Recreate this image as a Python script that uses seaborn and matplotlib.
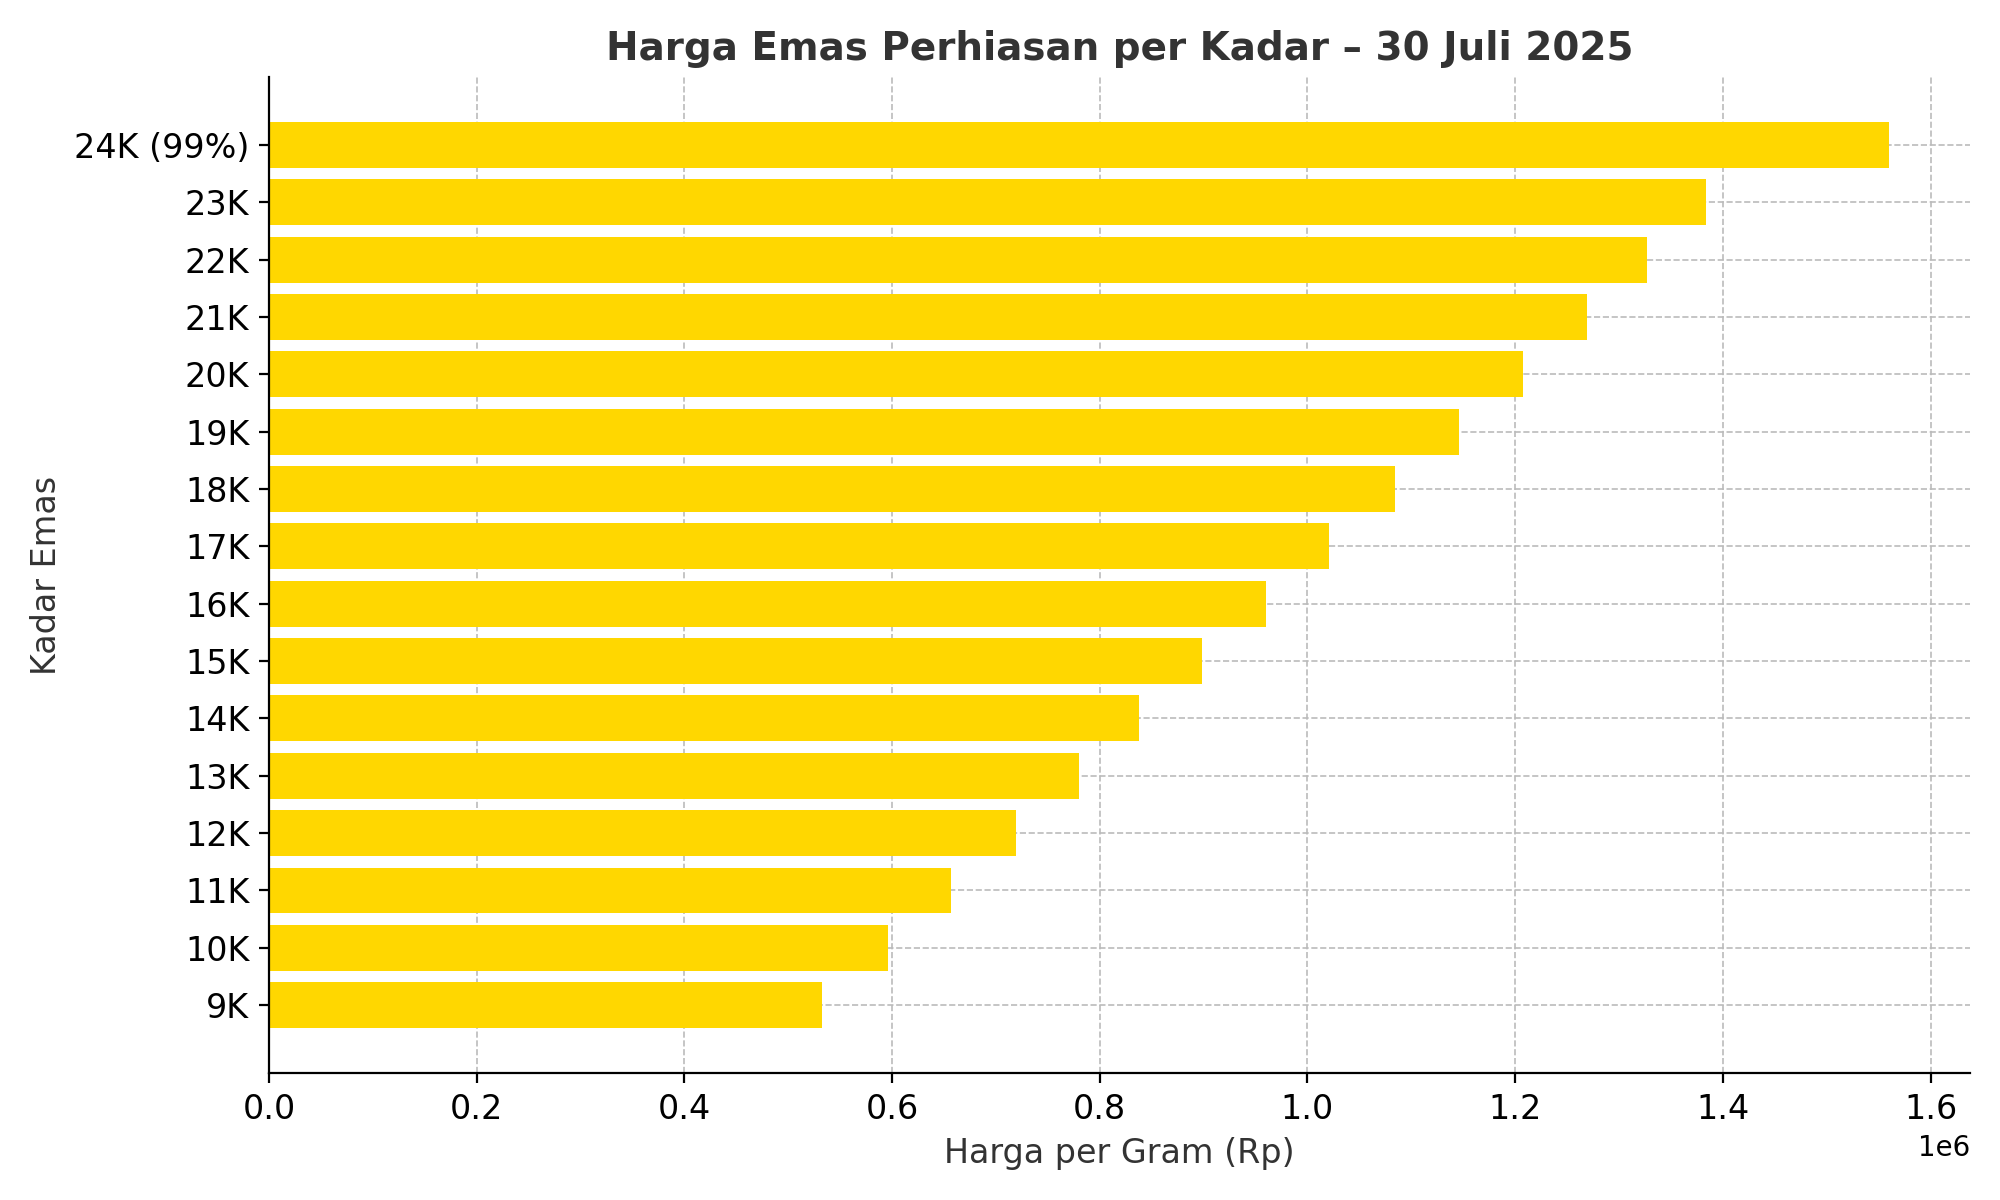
import matplotlib
matplotlib.use("Agg")
import matplotlib.pyplot as plt
import seaborn as sns
import pandas as pd

kadar = ["24K (99%)", "23K", "22K", "21K", "20K", "19K", "18K", "17K",
         "16K", "15K", "14K", "13K", "12K", "11K", "10K", "9K"]
harga = [1560000, 1384000, 1327000, 1269000, 1208000, 1146000, 1084000, 1021000,
         960000, 898000, 838000, 780000, 719000, 657000, 596000, 533000]

df = pd.DataFrame({"Kadar": kadar, "Harga": harga})

fig, ax = plt.subplots(figsize=(10, 6), dpi=200)
sns.barplot(data=df, y="Kadar", x="Harga", order=kadar, color="#FFD700",
            saturation=1, width=0.8, ax=ax, zorder=2)
ax.grid(True, linestyle="--", color="#bbbbbb", linewidth=0.6, zorder=0)
ax.set_axisbelow(True)
ax.set_xlim(0, 1.638e6)
ax.set_ylim(len(kadar) - 1 + 1.19, -1.19)
ax.spines["top"].set_visible(False)
ax.spines["right"].set_visible(False)
ax.set_title("Harga Emas Perhiasan per Kadar – 30 Juli 2025",
             fontsize=14, fontweight="bold", color="#333333")
ax.set_xlabel("Harga per Gram (Rp)", fontsize=12, color="#333333")
ax.set_ylabel("Kadar Emas", fontsize=12, color="#333333")
ax.tick_params(labelsize=12)
plt.tight_layout()
plt.savefig("out.png", dpi=200)
